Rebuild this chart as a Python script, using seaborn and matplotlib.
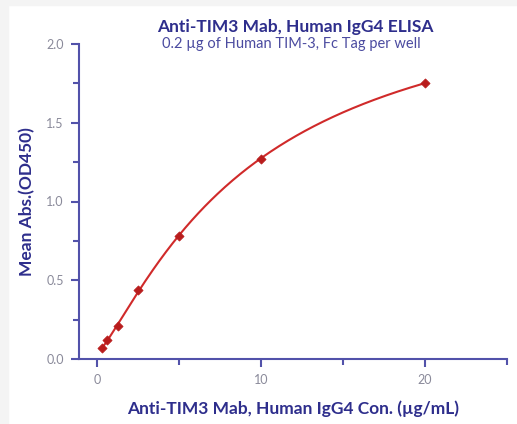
import matplotlib
matplotlib.use("Agg")
import matplotlib.pyplot as plt
import numpy as np
import pandas as pd
import seaborn as sns
from matplotlib.patches import Rectangle
from matplotlib.ticker import MultipleLocator

# ELISA readout
conc = [0.3125, 0.625, 1.25, 2.5, 5, 10, 20]
od450 = [0.07, 0.12, 0.21, 0.44, 0.78, 1.27, 1.75]

title = "Anti-TIM3 Mab, Human IgG4 ELISA"
subtitle = "0.2 \u00b5g of Human TIM-3, Fc Tag per well"
xlabel = "Anti-TIM3 Mab, Human IgG4 Con. (\u00b5g/mL)"
ylabel = "Mean Abs.(OD450)"

NAVY = "#2e2e8c"
SPINE = "#5252aa"
TICKTXT = "#8a8a9a"
RED = "#d02a2a"
DOT = "#b81c1c"


def fit_4pl(x, y):
    """4PL fit with 1/y weighting: grid over ec50 / slope, weighted linear solve
    for bottom & span."""
    w = 1 / y
    best = None
    for c in np.geomspace(2, 300, 300):
        for b in np.linspace(0.5, 2.0, 151):
            g = x**b / (c**b + x**b)
            A = np.column_stack([np.ones_like(g), g])
            coef, *_ = np.linalg.lstsq(A * w[:, None], y * w, rcond=None)
            err = np.sum(((A @ coef - y) * w) ** 2)
            if best is None or err < best[0]:
                best = (err, coef[0], coef[1], c, b)
    return best[1:]


df = pd.DataFrame({"conc": conc, "od": od450})
x = df["conc"].to_numpy(float)
y = df["od"].to_numpy(float)
bottom, span, c, b = fit_4pl(x, y)
xs = np.linspace(x.min(), x.max(), 300)
fit = pd.DataFrame({"conc": xs, "od": bottom + span * xs**b / (c**b + xs**b)})

sns.set_style("ticks")
plt.rcParams["font.family"] = ["Lato", "DejaVu Sans"]

fig = plt.figure(figsize=(5.17, 4.24), dpi=100)
fig.patches.append(Rectangle((0, 0), 8 / 517, 1, transform=fig.transFigure,
                             color="#f4f4f4", zorder=0))
fig.patches.append(Rectangle((0, 1 - 5 / 424), 1, 5 / 424, transform=fig.transFigure,
                             color="#f4f4f4", zorder=0))
ax = fig.add_axes([79 / 517, 1 - 359 / 424, 428 / 517, 315 / 424])

sns.lineplot(data=fit, x="conc", y="od", color=RED, lw=1.5, ax=ax)
sns.scatterplot(data=df, x="conc", y="od", marker="D", s=22, color=DOT,
                edgecolor=DOT, linewidth=0.5, zorder=3, ax=ax)

ax.set_xlim(-1.1, 25)
ax.set_ylim(0, 2.0)
ax.xaxis.set_major_locator(MultipleLocator(10))
ax.xaxis.set_minor_locator(MultipleLocator(5))
ax.yaxis.set_major_locator(MultipleLocator(0.5))
ax.yaxis.set_minor_locator(MultipleLocator(0.25))
ax.yaxis.set_major_formatter(lambda v, p: f"{v:.1f}")

for side in ("top", "right"):
    ax.spines[side].set_visible(False)
for side in ("left", "bottom"):
    ax.spines[side].set_color(SPINE)
    ax.spines[side].set_linewidth(1.5)

ax.tick_params(which="both", direction="out", color=SPINE, width=1.5,
               labelcolor=TICKTXT, labelsize=9, left=True, bottom=True)
ax.tick_params(which="major", length=6, pad=5)
ax.tick_params(which="minor", length=4)

ax.set_xlabel(xlabel, fontsize=12.5, fontweight="bold", color=NAVY, labelpad=10)
ax.set_ylabel(ylabel, fontsize=12.5, fontweight="bold", color=NAVY, labelpad=8)

fig.text(295 / 517, 1 - 27 / 424, title, ha="center", va="center",
         fontsize=12.5, fontweight="bold", color=NAVY)
fig.text(291 / 517, 1 - 44 / 424, subtitle, ha="center", va="center",
         fontsize=10.5, color="#4b4ba0")

fig.savefig("out.png", dpi=100)
